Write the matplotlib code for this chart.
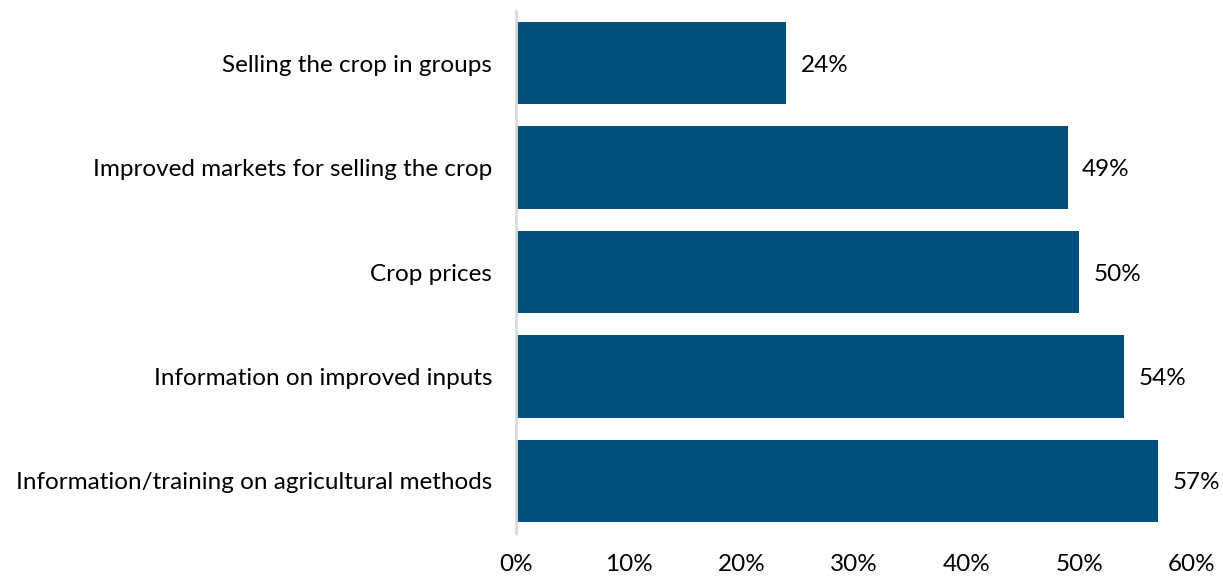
import matplotlib.pyplot as plt

categories = ["Selling the crop in groups",
              "Improved markets for selling the crop",
              "Crop prices",
              "Information on improved inputs",
              "Information/training on agricultural methods"]
values = [24, 49, 50, 54, 57]
xticks = [0, 10, 20, 30, 40, 50, 60]

plt.rcParams['font.family'] = ['Lato', 'DejaVu Sans']

fig = plt.figure(figsize=(12.23, 5.79), dpi=100)
ax = fig.add_axes([0.4219, 0.0794, 0.5527, 0.9016])

ypos = list(range(len(categories)))
ax.barh(ypos, values, height=0.79, color="#00507d")
ax.set_ylim(len(categories) - 0.5, -0.5)
ax.set_xlim(0, 60)

# percentage labels just past the end of each bar
for y, v in zip(ypos, values):
    ax.text(v + 1.25, y + 0.02, f"{v}%", va="center", ha="left", fontsize=17.5, color="black")

ax.set_yticks(ypos)
ax.set_yticklabels(categories, fontsize=17.5)
ax.set_xticks(xticks)
ax.set_xticklabels([f"{t}%" for t in xticks], fontsize=17.5)
ax.tick_params(axis="both", length=0)
ax.tick_params(axis="y", pad=17)
ax.tick_params(axis="x", pad=15)

for s in ["top", "right", "bottom"]:
    ax.spines[s].set_visible(False)
ax.spines["left"].set_color("#d9d9d9")
ax.spines["left"].set_linewidth(2)

fig.savefig("out.png", dpi=100)
